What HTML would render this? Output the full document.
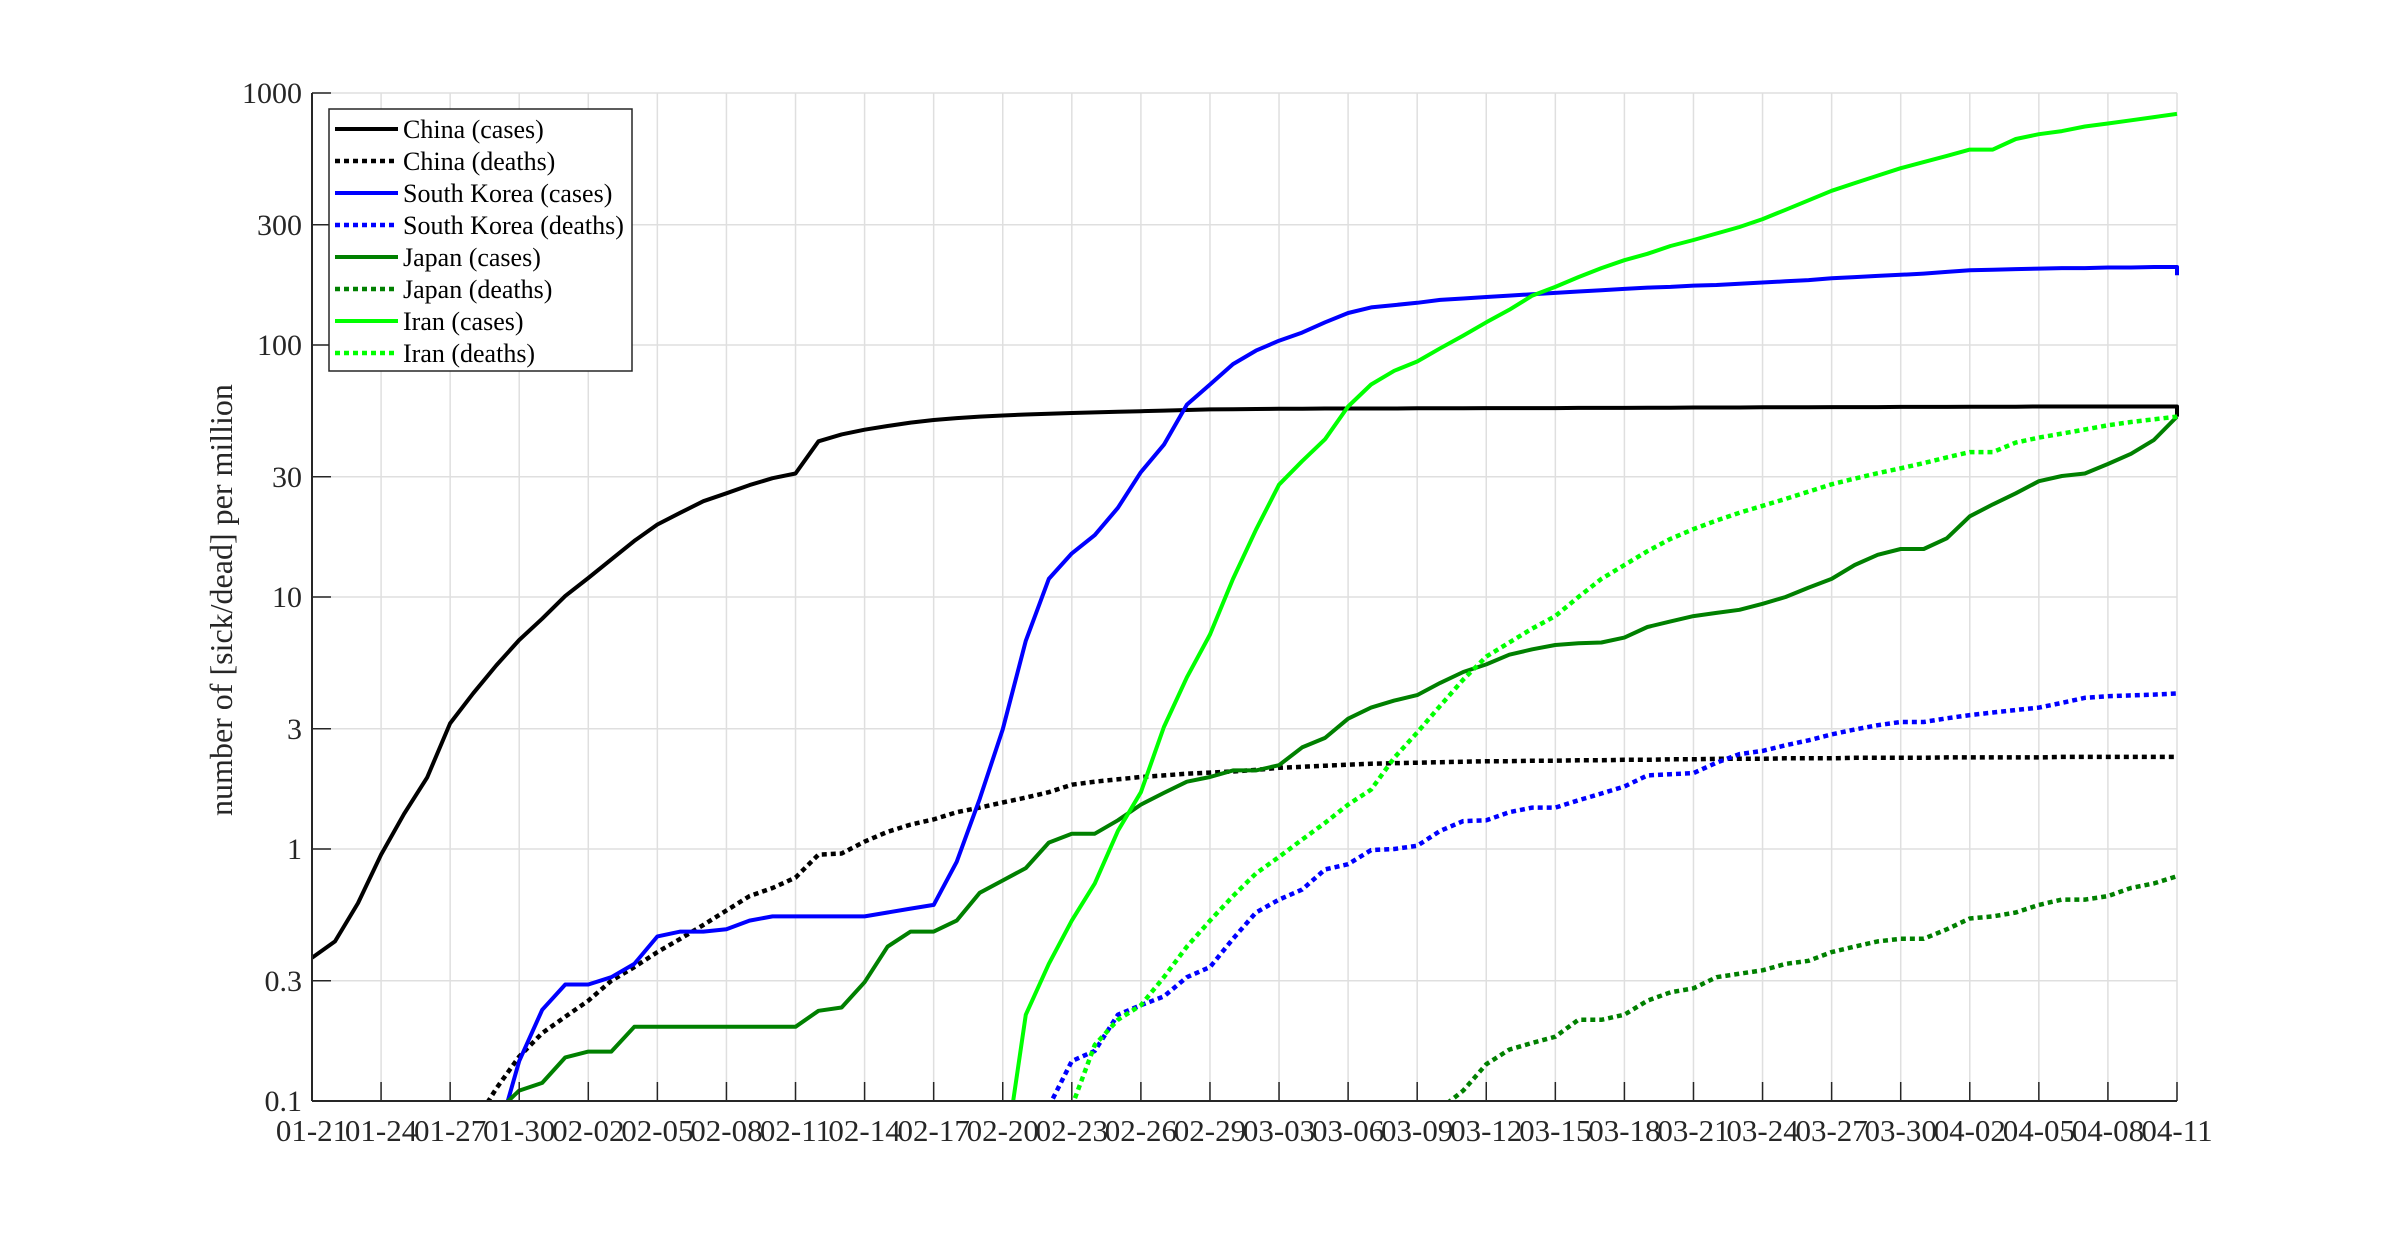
<!DOCTYPE html>
<html><head><meta charset="utf-8"><style>
html,body{margin:0;padding:0;background:#fff;}
svg{display:block;font-family:"Liberation Serif","Times New Roman",serif;}
</style></head><body>
<svg id="chart" width="2405" height="1237" viewBox="0 0 2405 1237" xmlns="http://www.w3.org/2000/svg">
<defs><clipPath id="plotclip"><rect x="312" y="93" width="1868" height="1009"/></clipPath></defs>
<g id="grid"></g>
<g id="series" clip-path="url(#plotclip)"></g>
<g id="axes"></g>
<text x="0" y="0" transform="translate(232,600) rotate(-90)" text-anchor="middle" font-size="32" fill="#262626">number of [sick/dead] per million</text>
<g id="legend"></g>
</svg>
<script>
const xTickLabels = ["01-21","01-24","01-27","01-30","02-02","02-05","02-08","02-11","02-14","02-17","02-20","02-23","02-26","02-29","03-03","03-06","03-09","03-12","03-15","03-18","03-21","03-24","03-27","03-30","04-02","04-05","04-08","04-11"];
const yTicks = [0.1,0.3,1,3,10,30,100,300,1000];
const yTickLabels = ["0.1","0.3","1","3","10","30","100","300","1000"];
const seriesNames = ["China (cases)","China (deaths)","South Korea (cases)","South Korea (deaths)","Japan (cases)","Japan (deaths)","Iran (cases)","Iran (deaths)"];
const N = null;
const chinaCases = [0.37,0.43,0.61,0.95,1.38,1.92,3.15,4.15,5.35,6.75,8.2,10.1,11.9,14.1,16.7,19.4,21.6,24,25.8,27.8,29.6,30.9,41.5,44.2,46.1,47.7,49.2,50.4,51.3,
52,52.5,53,53.4,53.7,54,54.3,54.6,54.9,55.2,55.5,55.6,55.7,55.8,55.9,56,56,56,56,56.1,56.1,56.1,56.2,56.2,56.2,56.2,56.3,56.3,56.3,56.4,56.4,56.5,56.5,56.5,56.6,56.6,56.6,56.7,56.7,56.7,56.8,56.8,56.8,56.9,56.9,56.9,57,57,57,57,57,57,52];
const chinaDeaths = [N,N,N,N,N,N,N,0.08,0.112,0.15,0.186,0.216,0.25,0.3,0.34,0.39,0.44,0.5,0.57,0.65,0.7,0.77,0.95,0.96,1.07,1.17,1.25,1.31,1.4,
1.46,1.53,1.6,1.68,1.8,1.85,1.89,1.93,1.96,1.99,2.01,2.03,2.06,2.1,2.12,2.14,2.16,2.18,2.19,2.2,2.21,2.22,2.23,2.23,2.24,2.24,
2.25,2.25,2.26,2.26,2.27,2.27,2.28,2.28,2.28,2.29,2.29,2.29,2.3,2.3,2.3,2.3,2.31,2.31,2.31,2.31,2.31,2.32,2.32,2.32,2.32,2.32,2.32];
const koreaCases = [N,N,N,N,N,N,N,N,0.069,0.144,0.23,0.29,0.29,0.31,0.35,0.45,0.47,0.47,0.48,0.52,0.54,0.54,0.54,0.54,0.54,0.56,0.58,0.6,
0.89,1.58,2.98,6.7,11.8,14.9,17.6,22.6,31.3,40.2,58,69.7,84,95,104,112,123,134,141,144,147,151,153,155,157,159,
161,163,165,167,169,170,172,173,175,177,179,181,184,186,188,190,192,195,198,199,200,201,202,202,203,203,204,189];
const koreaDeaths = [N,N,N,N,N,N,N,N,N,N,N,N,N,N,N,N,N,N,N,N,N,N,N,N,N,N,N,N,N,N,N,N,
0.095,0.144,0.158,0.22,0.24,0.26,0.31,0.34,0.44,0.56,0.63,0.69,0.83,0.87,0.99,1.0,1.03,1.18,1.29,1.3,1.4,1.46,1.46,1.56,1.66,1.77,1.96,1.98,2.0,2.2,2.38,2.45,2.58,2.7,2.85,2.98,3.1,3.19,3.19,3.3,3.4,3.48,3.56,3.64,3.8,3.98,4.04,4.07,4.1,4.14];
const japanCases = [N,N,N,N,N,N,N,N,0.09,0.11,0.118,0.149,0.157,0.157,0.197,0.197,0.197,0.197,0.197,0.197,0.197,0.197,0.228,0.235,0.296,0.41,0.47,0.47,0.52,
0.67,0.75,0.84,1.06,1.15,1.15,1.3,1.5,1.67,1.85,1.93,2.05,2.05,2.15,2.53,2.76,3.29,3.64,3.88,4.08,4.56,5.04,5.4,5.9,6.2,6.45,6.55,6.6,6.9,7.6,8.0,8.4,8.65,8.9,9.4,10,10.9,11.8,13.4,14.7,15.5,15.5,17.1,20.9,23.3,25.8,28.8,30.2,30.9,33.7,37,42,52];
const japanDeaths = [N,N,N,N,N,N,N,N,N,N,N,N,N,N,N,N,N,N,N,N,N,N,N,N,N,N,N,N,N,N,N,N,N,N,N,N,N,N,N,N,N,N,N,N,N,N,N,N,N,
0.093,0.11,0.14,0.16,0.17,0.18,0.21,0.21,0.22,0.25,0.27,0.28,0.31,0.32,0.33,0.35,0.36,0.39,0.41,0.43,0.44,0.44,0.48,0.53,0.54,0.56,0.6,0.63,0.63,0.65,0.7,0.73,0.78];
const iranCases = [N,N,N,N,N,N,N,N,N,N,N,N,N,N,N,N,N,N,N,N,N,N,N,N,N,N,N,N,N,N,
0.052,0.22,0.35,0.52,0.73,1.18,1.68,3.05,4.8,7.1,11.8,18.5,27.9,34.6,42.3,57,69.7,79,86,97,109,123,138,157,170,186,202,217,230,247,261,277,294,316,344,375,409,439,470,503,532,563,596,596,657,686,706,736,757,779,802,826];
const iranDeaths = [N,N,N,N,N,N,N,N,N,N,N,N,N,N,N,N,N,N,N,N,N,N,N,N,N,N,N,N,N,N,N,N,N,
0.095,0.167,0.21,0.24,0.31,0.41,0.52,0.65,0.8,0.93,1.09,1.27,1.5,1.72,2.3,2.9,3.7,4.7,5.8,6.6,7.5,8.4,10,11.8,13.4,15.2,17,18.6,20.1,21.6,23,24.5,26.2,28,29.5,31,32.4,34,35.8,37.6,37.6,41,42.9,44.5,46.2,48,49.5,50.7,52];

const X0=312, X1=2177, Y0=93, Y1=1101, NDAYS=81;
function xScale(d){ return X0 + (X1-X0)*d/NDAYS; }
function yScale(v){ return Y1 - (Math.log10(v)+1)/4*(Y1-Y0); }
const NS="http://www.w3.org/2000/svg";
function mk(tag, attrs, parent){ const e=document.createElementNS(NS,tag); for(const k in attrs) e.setAttribute(k,attrs[k]); parent.appendChild(e); return e; }

const grid=document.getElementById('grid'), axes=document.getElementById('axes');
xTickLabels.forEach((lab,i)=>{
  const x=xScale(i*3);
  const gl=mk('line',{x1:x,x2:x,y1:Y0,y2:Y1,stroke:'#dfdfdf','stroke-width':1.5},grid);
  
  
  const tk=mk('line',{x1:x,x2:x,y1:Y1,y2:Y1-19,stroke:'#262626','stroke-width':1.5},axes);
  
  
  const t=mk('text',{x:x,y:Y1+40,'text-anchor':'middle','font-size':31,fill:'#262626'},axes);
  t.textContent=lab;
  
  
});
yTicks.forEach((v,i)=>{
  const y=yScale(v);
  const gl=mk('line',{x1:X0,x2:X1,y1:y,y2:y,stroke:'#dfdfdf','stroke-width':1.5},grid);
  
  
  const tk=mk('line',{x1:X0,x2:X0+19,y1:y,y2:y,stroke:'#262626','stroke-width':1.5},axes);
  
  
  const t=mk('text',{x:X0-10,y:y+10,'text-anchor':'end','font-size':30,fill:'#262626'},axes);
  t.textContent=yTickLabels[i];
  
  
});
const xa=mk('line',{x1:X0,x2:X1,y1:Y1,y2:Y1,stroke:'#262626','stroke-width':2},axes);


const ya=mk('line',{x1:X0,x2:X0,y1:Y0,y2:Y1,stroke:'#262626','stroke-width':2},axes);



const seriesData=[chinaCases,chinaDeaths,koreaCases,koreaDeaths,japanCases,japanDeaths,iranCases,iranDeaths];
const colors=['#000000','#000000','#0000ff','#0000ff','#008000','#008000','#00ff00','#00ff00'];
const slugs=['china-cases','china-deaths','korea-cases','korea-deaths','japan-cases','japan-deaths','iran-cases','iran-deaths'];
const sg=document.getElementById('series');
seriesData.forEach((arr,si)=>{
  let d='', started=false;
  const last=arr.length-1;
  arr.forEach((v,i)=>{
    if(v==null) return;
    if(i===last && started && v<arr[i-1]){
      d+='L'+xScale(i).toFixed(1)+' '+yScale(arr[i-1]).toFixed(1);
    }
    d+=(started?'L':'M')+xScale(i).toFixed(1)+' '+yScale(v).toFixed(1); started=true;
  });
  const dotted = si%2===1;
  const p=mk('path',{d:d,fill:'none',stroke:colors[si],'stroke-width':dotted?4.5:4,'stroke-linejoin':'round'},sg);
  if(dotted) p.setAttribute('stroke-dasharray','5 4');
  
  
});

const lg=document.getElementById('legend');
const box=mk('rect',{x:329,y:109,width:303,height:262,fill:'#fff',stroke:'#262626','stroke-width':1.5},lg);


seriesNames.forEach((nm,i)=>{
  const y=129+i*32;
  const dotted=i%2===1;
  const g=mk('g',{},lg);
  
  
  const l=mk('line',{x1:335,x2:398,y1:y,y2:y,stroke:colors[i],'stroke-width':dotted?4.5:4},g);
  if(dotted) l.setAttribute('stroke-dasharray','5 4');
  
  
  const t=mk('text',{x:403,y:y+9,'font-size':26,fill:'#000'},g);
  t.textContent=nm;
  
  
});
</script>
</body></html>
